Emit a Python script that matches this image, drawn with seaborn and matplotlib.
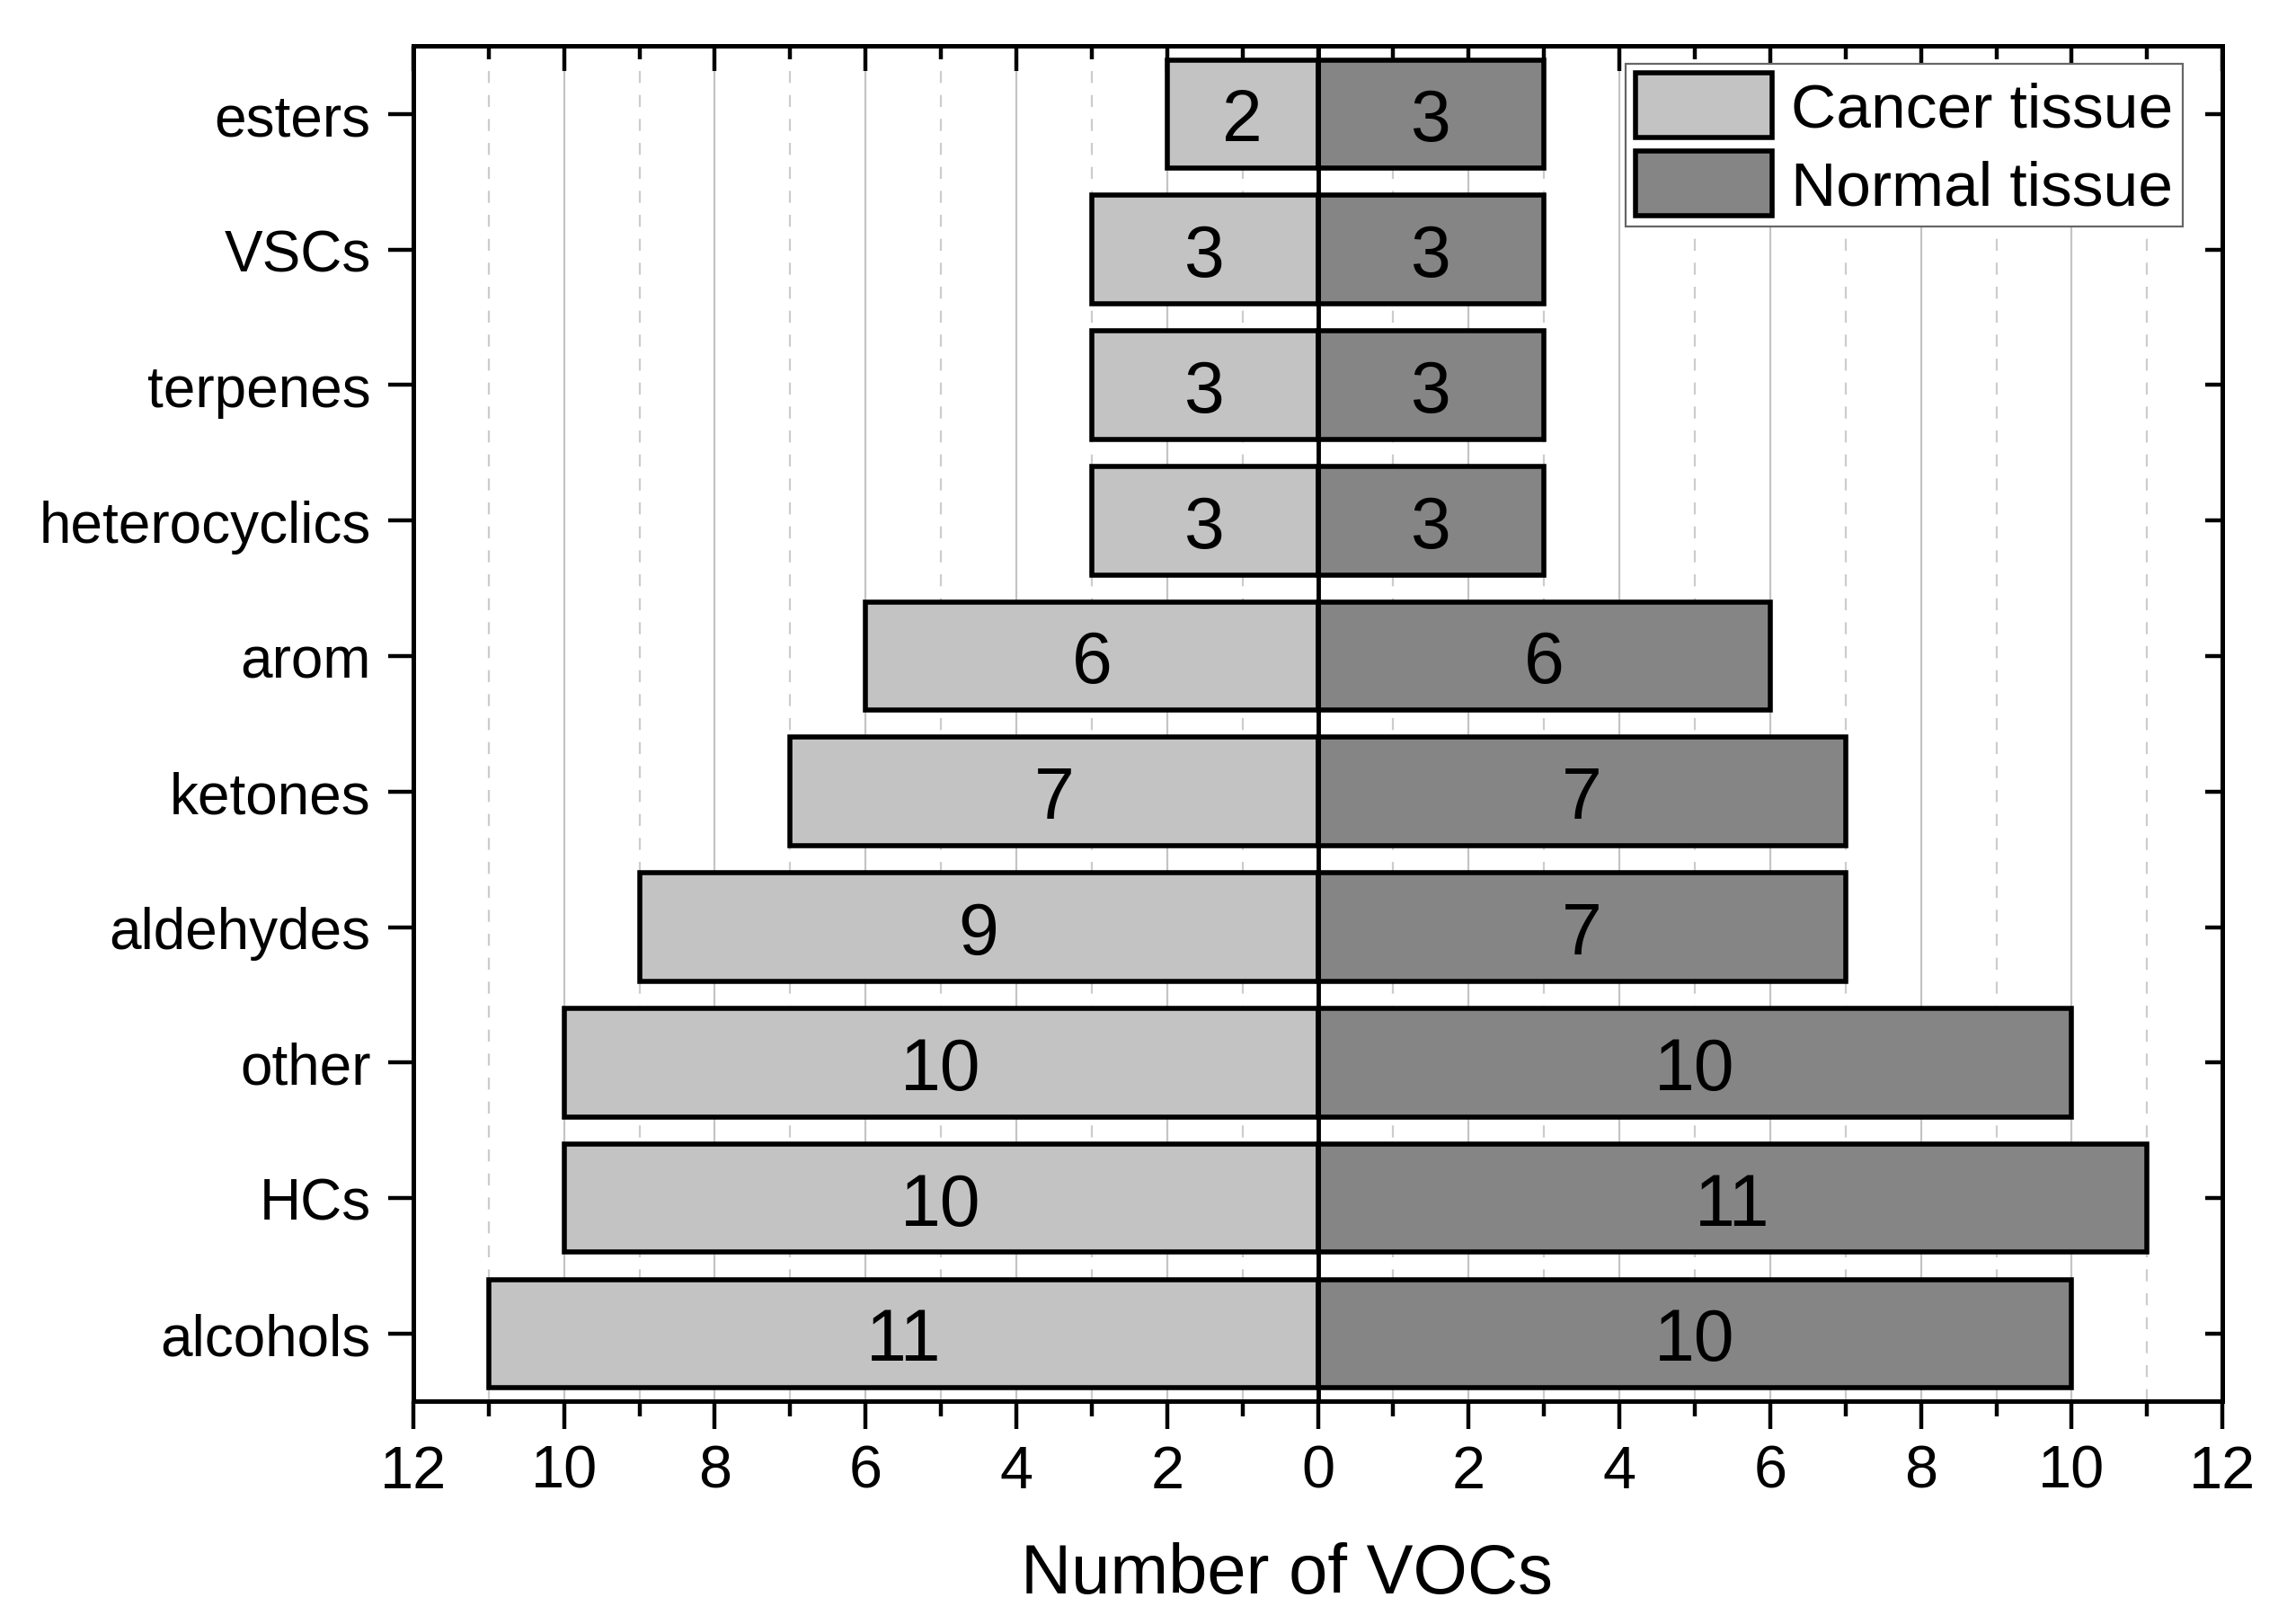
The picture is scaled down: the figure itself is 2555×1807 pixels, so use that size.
import matplotlib
matplotlib.use("Agg")
import matplotlib.pyplot as plt
import seaborn as sns
import numpy as np
import pandas as pd
from matplotlib.ticker import MultipleLocator
from matplotlib.patches import Patch

categories = ["esters", "VSCs", "terpenes", "heterocyclics", "arom",
              "ketones", "aldehydes", "other", "HCs", "alcohols"]
cancer = [2, 3, 3, 3, 6, 7, 9, 10, 10, 11]
normal = [3, 3, 3, 3, 6, 7, 7, 10, 11, 10]
xticks = [-12, -10, -8, -6, -4, -2, 0, 2, 4, 6, 8, 10, 12]

sns.set_style("white")
plt.rcParams['font.family'] = ['Liberation Sans', 'DejaVu Sans']
plt.rcParams['text.color'] = 'black'
plt.rcParams['axes.labelcolor'] = 'black'
plt.rcParams['xtick.color'] = 'black'
plt.rcParams['ytick.color'] = 'black'

c_col = "#c3c3c3"
n_col = "#858585"
EW = 4.0

fig = plt.figure(figsize=(25.55, 18.08), dpi=100)
ax = fig.add_axes([0.18, 0.137, 0.788, 0.834])

df_c = pd.DataFrame({"cat": categories, "val": [-v for v in cancer]})
df_n = pd.DataFrame({"cat": categories, "val": normal})

sns.barplot(data=df_c, x="val", y="cat", orient="h", order=categories,
            color=c_col, saturation=1, width=0.8, ax=ax, zorder=3)
sns.barplot(data=df_n, x="val", y="cat", orient="h", order=categories,
            color=n_col, saturation=1, width=0.8, ax=ax, zorder=3)
for p in ax.patches:
    p.set_edgecolor("black")
    p.set_linewidth(EW)

for i, (c, n) in enumerate(zip(cancer, normal)):
    ax.text(-c / 2, i, str(c), ha="center", va="center_baseline", fontsize=58, zorder=5)
    ax.text(n / 2, i, str(n), ha="center", va="center_baseline", fontsize=58, zorder=5)

ax.axvline(0, color="black", lw=3.5, zorder=4)

ax.set_xlim(-12, 12)
ax.set_ylim(len(categories) - 0.5, -0.5)
ax.set_xticks(xticks)
ax.set_xticklabels([str(abs(t)) for t in xticks])
ax.xaxis.set_minor_locator(MultipleLocator(1))

ax.grid(False)
for t in xticks:
    ax.axvline(t, color="#c4c4c4", lw=1.6, zorder=0)
for t in range(-11, 12, 2):
    ax.axvline(t, color="#cccccc", lw=1.6, ls=(0, (6, 6)), zorder=0)

for s in ax.spines.values():
    s.set_visible(True)
    s.set_color("black")
    s.set_linewidth(3.6)

ax.tick_params(axis="x", which="major", bottom=True, top=False, direction="out",
               length=22, width=3.2, labelsize=48, pad=12)
ax.tick_params(axis="x", which="minor", bottom=True, top=False, direction="out",
               length=12, width=3.2)
ax.tick_params(axis="y", which="major", left=True, right=False, direction="out",
               length=20, width=3.2, labelsize=46, pad=14)

ax2 = ax.secondary_xaxis("top")
ax2.set_xticks(xticks)
ax2.set_xticklabels([])
ax2.xaxis.set_minor_locator(MultipleLocator(1))
ax2.tick_params(which="major", direction="in", length=20, width=3.2)
ax2.tick_params(which="minor", direction="in", length=11, width=3.2)
ax2.spines["top"].set_linewidth(3.6)
ax3 = ax.secondary_yaxis("right")
ax3.set_yticks(range(len(categories)))
ax3.set_yticklabels([])
ax3.tick_params(direction="in", length=14, width=3.2)
ax3.spines["right"].set_linewidth(3.6)

ax.set_ylabel("")
ax.set_xlabel("Number of VOCs", fontsize=56)
ax.xaxis.set_label_coords(0.483, -0.103)
ax.xaxis.label.set_va("top")

handles = [Patch(facecolor=c_col, edgecolor="black", linewidth=EW, label="Cancer tissue"),
           Patch(facecolor=n_col, edgecolor="black", linewidth=EW, label="Normal tissue")]
leg = ax.legend(handles=handles, loc="upper right", bbox_to_anchor=(0.978, 0.987),
                fontsize=50, frameon=True, fancybox=False, edgecolor="#666666",
                framealpha=1, handlelength=2.2, handleheight=1.2,
                handletextpad=0.3, borderpad=0.15, labelspacing=0.2,
                borderaxespad=0.0)
leg.get_frame().set_linewidth(1.6)
leg.set_zorder(6)

fig.savefig("out.png", dpi=100)
